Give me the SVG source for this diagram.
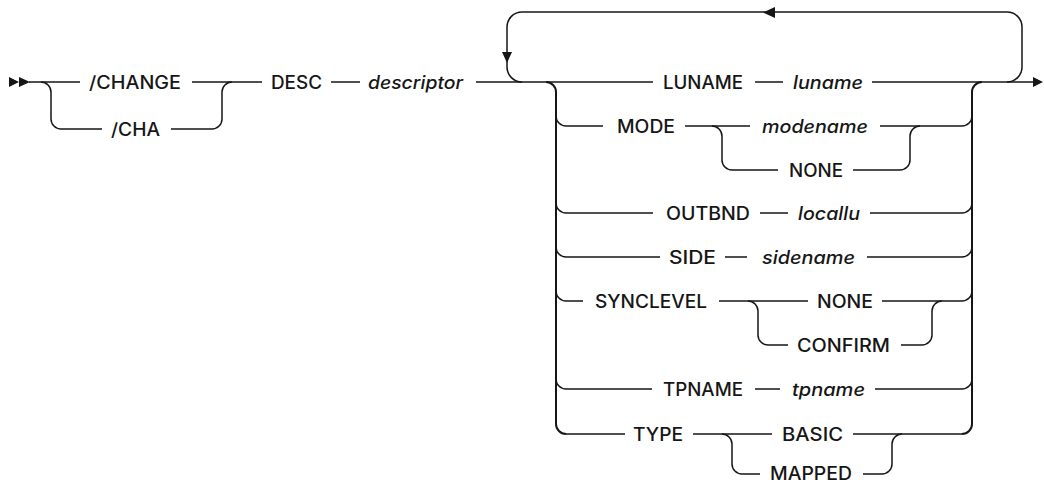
<svg xmlns="http://www.w3.org/2000/svg" width="1044" height="484" viewBox="0 0 1044 484">
<style>
.ln{fill:none;stroke:#161616;stroke-width:1.5}
.vt{fill:none;stroke:#161616;stroke-width:2}
.ah{fill:#161616;stroke:none}
text{font-family:Inter,"Liberation Sans",sans-serif;font-size:18px;font-weight:500;fill:#161616}
.v{font-style:italic}
</style>
<rect width="1044" height="484" fill="#ffffff"/>
<g id="connectors">
<polygon class="ah" points="9,77 19,82 9,87"/>
<polygon class="ah" points="19,77 30,82 19,87"/>
<path class="ln" d="M29,82 H80"/>
<path class="ln" d="M41,82 A10,10 0 0 1 51,92 V119 A10,10 0 0 0 61,129 H102"/>
<path class="ln" d="M171,129 H212 A10,10 0 0 0 222,119 V92 A10,10 0 0 1 232,82"/>
<path class="ln" d="M192,82 H262"/>
<path class="ln" d="M331,82 H360"/>
<path class="ln" d="M476,82 H653"/>
<path class="ln" d="M755,82 H783"/>
<path class="ln" d="M872,82 H1033"/>
<polygon class="ah" points="1033,77 1043,82 1033,87"/>
<path class="ln" d="M1007,82 A15,15 0 0 0 1022,67 V27 A15,15 0 0 0 1007,12 H522 A15,15 0 0 0 507,27 V67 A15,15 0 0 0 522,82"/>
<polygon class="ah" points="775,7 763,12.5 775,18"/>
<polygon class="ah" points="502,52 507,63 512,52"/>
<path class="vt" d="M546,82 A10,10 0 0 1 556,92 V424 A10,10 0 0 0 566,434"/>
<path class="vt" d="M962,434 A10,10 0 0 0 972,424 V92 A10,10 0 0 1 982,82"/>
<path class="ln" d="M556,116 A10,10 0 0 0 566,126 H603"/>
<path class="ln" d="M685,126 H750"/>
<path class="ln" d="M712,126 A10,10 0 0 1 722,136 V160 A10,10 0 0 0 732,170 H778"/>
<path class="ln" d="M880,126 H962 A10,10 0 0 0 972,116"/>
<path class="ln" d="M853,170 H900 A10,10 0 0 0 910,160 V136 A10,10 0 0 1 920,126"/>
<path class="ln" d="M556,203 A10,10 0 0 0 566,213 H653"/>
<path class="ln" d="M760,213 H788"/>
<path class="ln" d="M870,213 H962 A10,10 0 0 0 972,203"/>
<path class="ln" d="M556,247 A10,10 0 0 0 566,257 H660"/>
<path class="ln" d="M725,257 H747"/>
<path class="ln" d="M867,257 H962 A10,10 0 0 0 972,247"/>
<path class="ln" d="M556,291 A10,10 0 0 0 566,301 H583"/>
<path class="ln" d="M719,301 H808"/>
<path class="ln" d="M748,301 A10,10 0 0 1 758,311 V335 A10,10 0 0 0 768,345 H788"/>
<path class="ln" d="M882,301 H962 A10,10 0 0 0 972,291"/>
<path class="ln" d="M901,345 H922 A10,10 0 0 0 932,335 V311 A10,10 0 0 1 942,301"/>
<path class="ln" d="M556,379 A10,10 0 0 0 566,389 H652"/>
<path class="ln" d="M755,389 H780"/>
<path class="ln" d="M875,389 H962 A10,10 0 0 0 972,379"/>
<path class="ln" d="M566,434 H625"/>
<path class="ln" d="M693,434 H772"/>
<path class="ln" d="M722,434 A10,10 0 0 1 732,444 V464 A10,10 0 0 0 742,474 H760"/>
<path class="ln" d="M853,434 H962"/>
<path class="ln" d="M863,474 H882 A10,10 0 0 0 892,464 V444 A10,10 0 0 1 902,434"/>
</g>
<g id="n-change"><text x="89" y="89" textLength="92" lengthAdjust="spacingAndGlyphs">/CHANGE</text></g>
<g id="n-cha"><text x="111" y="136" textLength="49" lengthAdjust="spacingAndGlyphs">/CHA</text></g>
<g id="n-desc"><text x="271" y="89" textLength="51" lengthAdjust="spacingAndGlyphs">DESC</text></g>
<g id="n-descriptor"><text class="v" x="368" y="89" textLength="95" lengthAdjust="spacingAndGlyphs">descriptor</text></g>
<g id="n-luname-kw"><text x="663" y="89" textLength="80" lengthAdjust="spacingAndGlyphs">LUNAME</text></g>
<g id="n-luname"><text class="v" x="793" y="89" textLength="70" lengthAdjust="spacingAndGlyphs">luname</text></g>
<g id="n-mode"><text x="617" y="133" textLength="58" lengthAdjust="spacingAndGlyphs">MODE</text></g>
<g id="n-modename"><text class="v" x="762" y="133" textLength="106" lengthAdjust="spacingAndGlyphs">modename</text></g>
<g id="n-mode-none"><text x="789" y="177" textLength="54" lengthAdjust="spacingAndGlyphs">NONE</text></g>
<g id="n-outbnd"><text x="666" y="220" textLength="84" lengthAdjust="spacingAndGlyphs">OUTBND</text></g>
<g id="n-locallu"><text class="v" x="798" y="220" textLength="62" lengthAdjust="spacingAndGlyphs">locallu</text></g>
<g id="n-side"><text x="669" y="264" textLength="47" lengthAdjust="spacingAndGlyphs">SIDE</text></g>
<g id="n-sidename"><text class="v" x="762" y="264" textLength="93" lengthAdjust="spacingAndGlyphs">sidename</text></g>
<g id="n-synclevel"><text x="595" y="308" textLength="112" lengthAdjust="spacingAndGlyphs">SYNCLEVEL</text></g>
<g id="n-sync-none"><text x="817" y="308" textLength="56" lengthAdjust="spacingAndGlyphs">NONE</text></g>
<g id="n-confirm"><text x="797" y="352" textLength="93" lengthAdjust="spacingAndGlyphs">CONFIRM</text></g>
<g id="n-tpname-kw"><text x="663" y="396" textLength="80" lengthAdjust="spacingAndGlyphs">TPNAME</text></g>
<g id="n-tpname"><text class="v" x="792" y="396" textLength="73" lengthAdjust="spacingAndGlyphs">tpname</text></g>
<g id="n-type"><text x="633" y="441" textLength="50" lengthAdjust="spacingAndGlyphs">TYPE</text></g>
<g id="n-basic"><text x="782" y="441" textLength="61" lengthAdjust="spacingAndGlyphs">BASIC</text></g>
<g id="n-mapped"><text x="770" y="480" textLength="82" lengthAdjust="spacingAndGlyphs">MAPPED</text></g>
</svg>
